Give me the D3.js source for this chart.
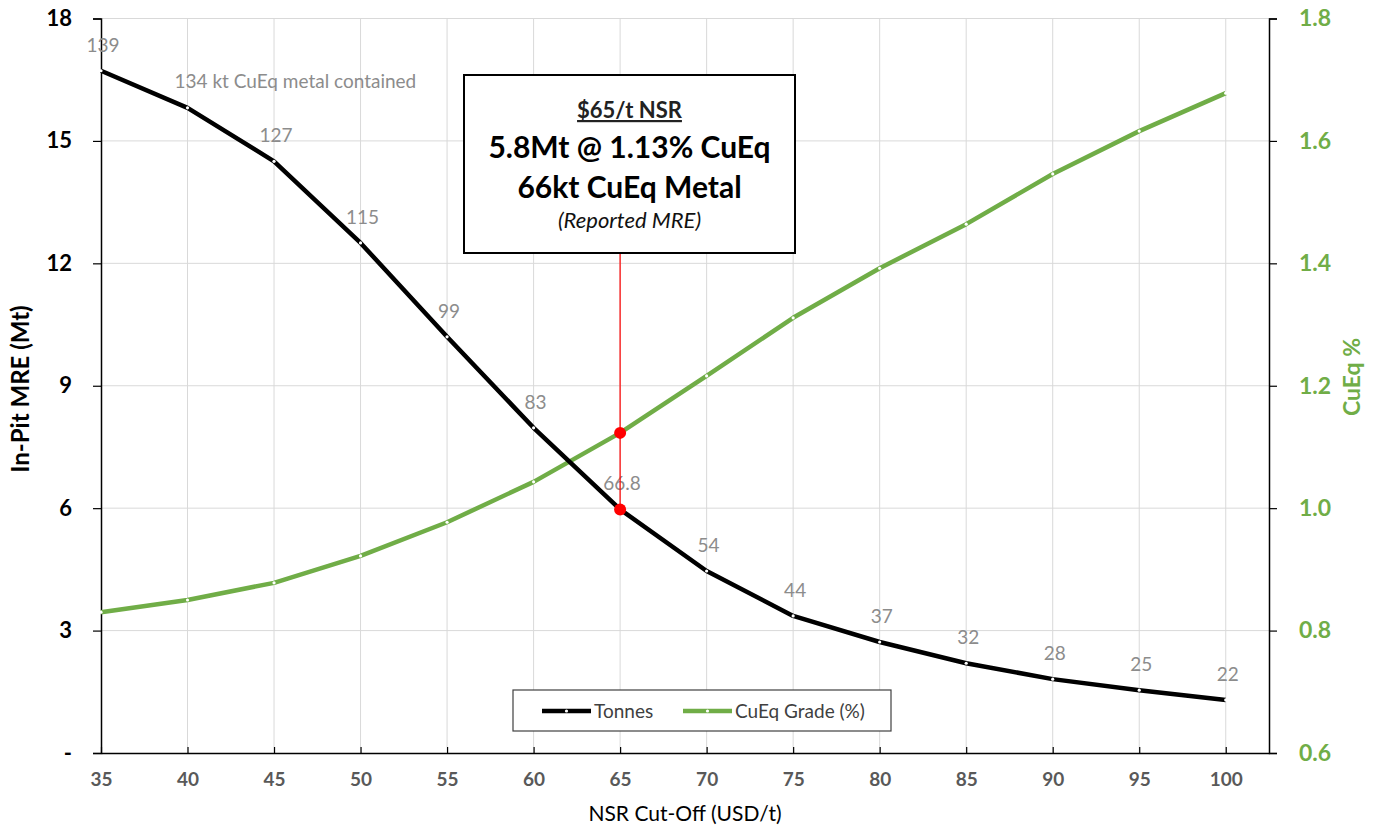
<!DOCTYPE html>
<html>
<head>
<meta charset="utf-8">
<script src="https://cdn.jsdelivr.net/npm/d3@7"></script>
<style>
  html, body { margin: 0; padding: 0; background: #fff; }
  svg { display: block; font-family: Lato, "Open Sans", sans-serif; }
</style>
</head>
<body>
<svg id="chart" width="1381" height="832"></svg>
<script>
// NSR cut-off grades (USD/t)
const cutoffs = [35, 40, 45, 50, 55, 60, 65, 70, 75, 80, 85, 90, 95, 100];
// In-pit tonnes (Mt) at each cut-off
const tonnes = [16.72, 15.81, 14.5, 12.5, 10.2, 7.97, 5.97, 4.46, 3.36, 2.72, 2.2, 1.81, 1.54, 1.30];
// CuEq grade (%) at each cut-off
const grade = [0.830, 0.850, 0.878, 0.922, 0.977, 1.043, 1.123, 1.216, 1.311, 1.392, 1.464, 1.546, 1.616, 1.678];
// Contained CuEq metal labels (kt)
const metalLabels = ["139", "134 kt CuEq metal contained", "127", "115", "99", "83", "66.8", "54", "44", "37", "32", "28", "25", "22"];
const leftTicks = [0, 3, 6, 9, 12, 15, 18];
const rightTicks = [0.6, 0.8, 1.0, 1.2, 1.4, 1.6, 1.8];
const reportedCutoff = 65;

const svg = d3.select("#chart");
const plotLeft = 101, plotRight = 1269, plotTop = 18.5, plotBottom = 753;
const fontStack = "Lato, 'Open Sans', sans-serif";

const x = d3.scaleLinear().domain([35, 102.5]).range([plotLeft, plotRight]);
const yL = d3.scaleLinear().domain([0, 18]).range([plotBottom, plotTop]);
const yR = d3.scaleLinear().domain([0.6, 1.8]).range([plotBottom, plotTop]);

const green = "#70ad47";
const grid = "#d9d9d9";

// gridlines
svg.append("g").selectAll("line").data(leftTicks.filter(d => d > 0)).join("line")
  .attr("x1", plotLeft).attr("x2", plotRight)
  .attr("y1", d => yL(d)).attr("y2", d => yL(d))
  .attr("stroke", grid).attr("stroke-width", 1);
svg.append("g").selectAll("line").data(cutoffs.slice(1)).join("line")
  .attr("x1", d => x(d)).attr("x2", d => x(d))
  .attr("y1", plotTop).attr("y2", plotBottom)
  .attr("stroke", grid).attr("stroke-width", 1);

// left axis
const gL = svg.append("g").attr("transform", `translate(${plotLeft},0)`)
  .call(d3.axisLeft(yL).tickValues(leftTicks).tickSize(8).tickSizeOuter(8).tickPadding(21)
    .tickFormat(d => d === 0 ? "-" : d));
gL.attr("font-family", fontStack);
gL.select(".domain").attr("stroke", "#000").attr("stroke-width", 1.5);
gL.selectAll(".tick line").attr("stroke", "#000").attr("stroke-width", 1.2);
gL.selectAll(".tick text").attr("fill", "#000").attr("font-size", 22).attr("font-weight", "bold");

// right axis
const gR = svg.append("g").attr("transform", `translate(${plotRight},0)`)
  .call(d3.axisRight(yR).tickValues(rightTicks).tickSize(8).tickSizeOuter(8).tickPadding(22)
    .tickFormat(d3.format(".1f")));
gR.attr("font-family", fontStack);
gR.select(".domain").attr("stroke", "#000").attr("stroke-width", 1.5);
gR.selectAll(".tick line").attr("stroke", "#000").attr("stroke-width", 1.2);
gR.selectAll(".tick text").attr("fill", green).attr("font-size", 23).attr("font-weight", "bold");

// bottom axis
const gB = svg.append("g").attr("transform", `translate(0,${plotBottom})`)
  .call(d3.axisBottom(x).tickValues(cutoffs).tickSize(-6).tickPadding(20).tickSizeOuter(0));
gB.attr("font-family", fontStack);
gB.select(".domain").attr("stroke", "#000").attr("stroke-width", 1.5);
gB.selectAll(".tick line").attr("stroke", "#000").attr("stroke-width", 1.2);
gB.selectAll(".tick text").attr("fill", "#595959").attr("font-size", 19).attr("font-weight", "bold");

// axis titles
svg.append("text").attr("transform", "translate(29,389) rotate(-90)")
  .attr("text-anchor", "middle").attr("font-size", 24).attr("font-weight", "bold")
  .attr("fill", "#000").text("In-Pit MRE (Mt)");
svg.append("text").attr("transform", "translate(1360,377) rotate(-90)")
  .attr("text-anchor", "middle").attr("font-size", 23).attr("font-weight", "bold")
  .attr("fill", green).text("CuEq %");
svg.append("text").attr("x", 685).attr("y", 821)
  .attr("text-anchor", "middle").attr("font-size", 21).attr("fill", "#000")
  .text("NSR Cut-Off (USD/t)");

const data = cutoffs.map((c, i) => ({ c, t: tonnes[i], g: grade[i], lab: metalLabels[i] }));

// series lines
const lineT = d3.line().x(d => x(d.c)).y(d => yL(d.t));
const lineG = d3.line().x(d => x(d.c)).y(d => yR(d.g));
svg.append("path").datum(data).attr("d", lineG).attr("fill", "none")
  .attr("stroke", green).attr("stroke-width", 4.5).attr("stroke-linejoin", "round");
svg.append("path").datum(data).attr("d", lineT).attr("fill", "none")
  .attr("stroke", "#000").attr("stroke-width", 4.5).attr("stroke-linejoin", "round");

// small white markers
svg.append("g").selectAll("circle").data(data).join("circle")
  .attr("cx", d => x(d.c)).attr("cy", d => yL(d.t)).attr("r", 1.6).attr("fill", "#fff");
svg.append("g").selectAll("circle").data(data).join("circle")
  .attr("cx", d => x(d.c)).attr("cy", d => yR(d.g)).attr("r", 1.6).attr("fill", "#fff");

// metal contained labels
svg.append("g").selectAll("text").data(data).join("text")
  .attr("x", (d, i) => i === 1 ? x(d.c) - 13 : x(d.c) + 2)
  .attr("y", (d, i) => i === 1 ? yL(d.t) - 20 : yL(d.t) - 19)
  .attr("text-anchor", (d, i) => i === 1 ? "start" : "middle")
  .attr("font-size", 19).attr("fill", "#8c8c8c")
  .text(d => d.lab);

// reported MRE marker line and points
const rep = data.find(d => d.c === reportedCutoff);
const boxX = 464, boxY = 75, boxW = 331, boxH = 178;
svg.append("line").attr("x1", x(rep.c)).attr("x2", x(rep.c))
  .attr("y1", boxY + boxH).attr("y2", yL(rep.t))
  .attr("stroke", "#ff0000").attr("stroke-width", 1.2);
svg.append("circle").attr("cx", x(rep.c)).attr("cy", yR(rep.g)).attr("r", 6).attr("fill", "#ff0000");
svg.append("circle").attr("cx", x(rep.c)).attr("cy", yL(rep.t)).attr("r", 6).attr("fill", "#ff0000");

// annotation box
svg.append("rect").attr("x", boxX).attr("y", boxY).attr("width", boxW).attr("height", boxH)
  .attr("fill", "#fff").attr("stroke", "#000").attr("stroke-width", 2);
const cx = boxX + boxW / 2;
svg.append("text").attr("x", cx).attr("y", 118).attr("text-anchor", "middle")
  .attr("font-size", 22).attr("font-weight", "bold").attr("fill", "#222")
  .attr("text-decoration", "underline").text("$65/t NSR");
svg.append("text").attr("x", cx).attr("y", 158).attr("text-anchor", "middle")
  .attr("font-size", 30).attr("font-weight", "bold").attr("fill", "#000")
  .text("5.8Mt @ 1.13% CuEq");
svg.append("text").attr("x", cx).attr("y", 198).attr("text-anchor", "middle")
  .attr("font-size", 30).attr("font-weight", "bold").attr("fill", "#000")
  .text("66kt CuEq Metal");
svg.append("text").attr("x", cx).attr("y", 228).attr("text-anchor", "middle")
  .attr("font-size", 22).attr("font-style", "italic").attr("fill", "#111")
  .text("(Reported MRE)");

// legend
const lg = svg.append("g");
lg.append("rect").attr("x", 513).attr("y", 690).attr("width", 378).attr("height", 41)
  .attr("fill", "#fff").attr("stroke", "#404040").attr("stroke-width", 1.2);
const legendItems = [
  { label: "Tonnes", color: "#000", x0: 542 },
  { label: "CuEq Grade (%)", color: green, x0: 683 }
];
legendItems.forEach(it => {
  lg.append("line").attr("x1", it.x0).attr("x2", it.x0 + 49).attr("y1", 711).attr("y2", 711)
    .attr("stroke", it.color).attr("stroke-width", 4.5);
  lg.append("circle").attr("cx", it.x0 + 24.5).attr("cy", 711).attr("r", 1.6).attr("fill", "#fff");
  lg.append("text").attr("x", it.x0 + 52).attr("y", 718).attr("font-size", 19)
    .attr("fill", "#404040").text(it.label);
});
</script>
</body>
</html>
